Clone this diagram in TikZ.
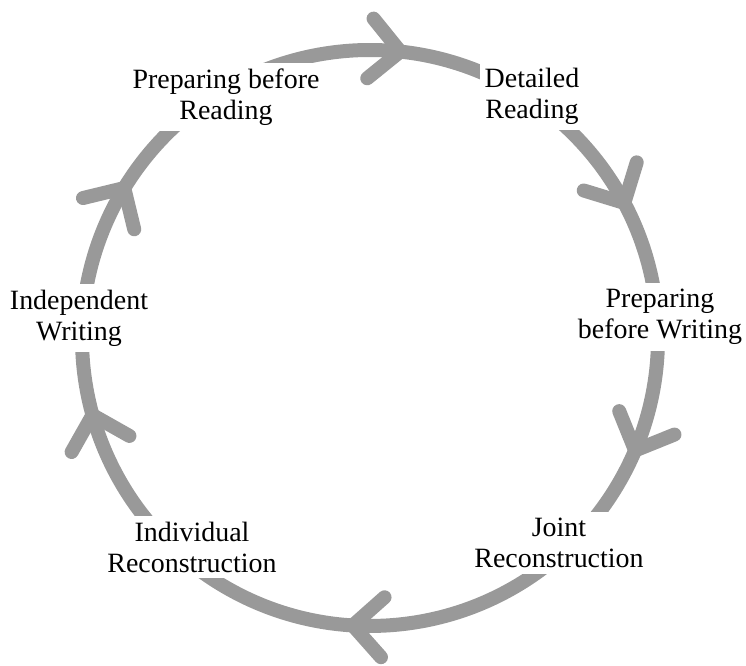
\documentclass[tikz,border=0pt]{standalone}
\usepackage{fontspec}
\setmainfont{Liberation Serif}
\usetikzlibrary{decorations.markings}
\definecolor{loopgrey}{RGB}{153,153,153}

\begin{document}
\begin{tikzpicture}[
  x=1cm,y=1cm,
  line cap=round,line join=round,
  loopline/.style={draw=loopgrey,line width=0.28cm},
  chevron at/.style={postaction={decorate},decoration={markings,
    mark=at position #1 with {\draw[loopgrey,line width=0.28cm] (-0.6,0.6) -- (0,0) -- (-0.6,-0.6);}}},
  stage/.style={fill=white,align=center,inner xsep=0.1cm,inner ysep=0.12cm,
    font=\fontsize{15.9pt}{17.6pt}\selectfont}
]
  \useasboundingbox (-7.4,-6.56) rectangle (7.52,6.76);

  % Points on the cycle
  \def\rad{5.76}
  \coordinate (pbr-c) at (120.9:\rad);
  \coordinate (dr-c)  at (56:\rad);
  \coordinate (pbw-c) at (4.1:\rad);
  \coordinate (jr-c)  at (-47.3:\rad);
  \coordinate (ir-c)  at (-130.4:\rad);
  \coordinate (iw-c)  at (176.1:\rad);

  % Arcs (clockwise)
  \draw[loopline,chevron at=0.569] (pbr-c) to[bend left=32.45,looseness=0.924] (dr-c);
  \draw[loopline,chevron at=0.540] (dr-c)  to[bend left=25.95,looseness=0.897] (pbw-c);
  \draw[loopline,chevron at=0.527] (pbw-c) to[bend left=25.7,looseness=0.896] (jr-c);
  \draw[loopline,chevron at=0.555] (jr-c)  to[bend left=41.55,looseness=0.974] (ir-c);
  \draw[loopline,chevron at=0.637] (ir-c)  to[bend left=26.75,looseness=0.900] (iw-c);
  \draw[loopline,chevron at=0.498] (iw-c)  to[bend left=27.6,looseness=0.903] (pbr-c);

  % Stages
  \node[stage] (pbr) at (-2.88,4.82) {Preparing before\\Reading};
  \node[stage] (dr)  at (3.24,4.84)  {Detailed\\Reading};
  \node[stage] (pbw) at (5.80,0.42)  {Preparing\\before Writing};
  \node[stage] (jr)  at (3.78,-4.10) {Joint\\Reconstruction};
  \node[stage] (ir)  at (-3.56,-4.18) {Individual\\Reconstruction};
  \node[stage] (iw)  at (-5.82,0.40) {Independent\\Writing};
\end{tikzpicture}
\end{document}
